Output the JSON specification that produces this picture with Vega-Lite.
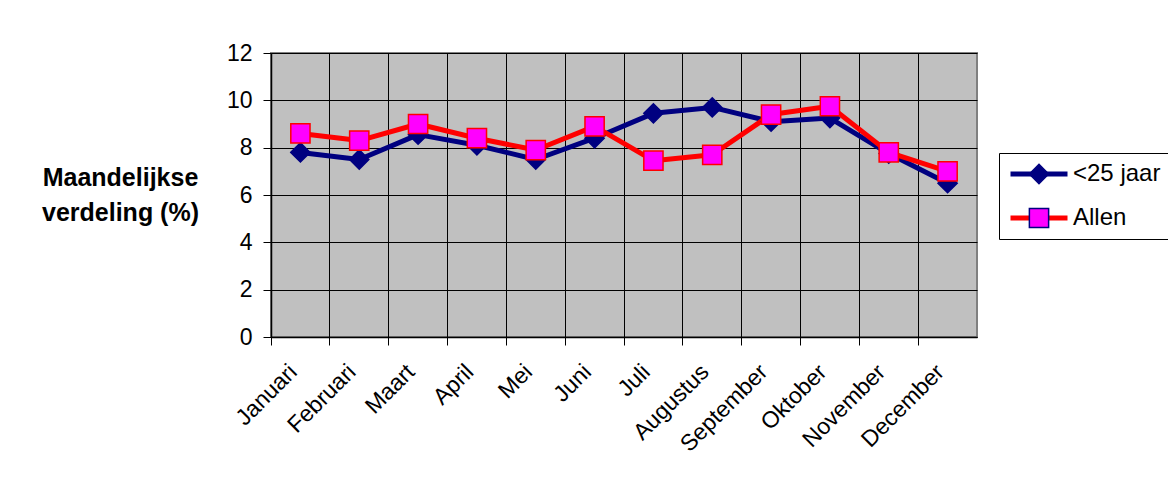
{
  "$schema": "https://vega.github.io/schema/vega-lite/v6.json",
  "autosize": {"type": "none"},
  "width": 706,
  "height": 284,
  "padding": {"left": 271, "top": 53, "right": 191, "bottom": 149},
  "background": "white",
  "config": {
    "font": "Liberation Sans",
    "view": {"fill": "#C0C0C0", "stroke": "#808080", "strokeWidth": 2}
  },
  "data": {
    "values": [
      {"maand": "Januari", "serie": "<25 jaar", "waarde": 7.8},
      {"maand": "Februari", "serie": "<25 jaar", "waarde": 7.5},
      {"maand": "Maart", "serie": "<25 jaar", "waarde": 8.55},
      {"maand": "April", "serie": "<25 jaar", "waarde": 8.1},
      {"maand": "Mei", "serie": "<25 jaar", "waarde": 7.5},
      {"maand": "Juni", "serie": "<25 jaar", "waarde": 8.4},
      {"maand": "Juli", "serie": "<25 jaar", "waarde": 9.45},
      {"maand": "Augustus", "serie": "<25 jaar", "waarde": 9.7},
      {"maand": "September", "serie": "<25 jaar", "waarde": 9.1},
      {"maand": "Oktober", "serie": "<25 jaar", "waarde": 9.25},
      {"maand": "November", "serie": "<25 jaar", "waarde": 7.75},
      {"maand": "December", "serie": "<25 jaar", "waarde": 6.5},
      {"maand": "Januari", "serie": "Allen", "waarde": 8.6},
      {"maand": "Februari", "serie": "Allen", "waarde": 8.3},
      {"maand": "Maart", "serie": "Allen", "waarde": 9.0},
      {"maand": "April", "serie": "Allen", "waarde": 8.4},
      {"maand": "Mei", "serie": "Allen", "waarde": 7.9},
      {"maand": "Juni", "serie": "Allen", "waarde": 8.9},
      {"maand": "Juli", "serie": "Allen", "waarde": 7.45},
      {"maand": "Augustus", "serie": "Allen", "waarde": 7.7},
      {"maand": "September", "serie": "Allen", "waarde": 9.4},
      {"maand": "Oktober", "serie": "Allen", "waarde": 9.75},
      {"maand": "November", "serie": "Allen", "waarde": 7.8},
      {"maand": "December", "serie": "Allen", "waarde": 7.0}
    ]
  },
  "encoding": {
    "x": {
      "field": "maand",
      "type": "ordinal",
      "sort": ["Januari", "Februari", "Maart", "April", "Mei", "Juni", "Juli", "Augustus", "September", "Oktober", "November", "December"],
      "scale": {"type": "band", "paddingInner": 0, "paddingOuter": 0},
      "bandPosition": 0.5,
      "axis": {
        "title": null,
        "bandPosition": 0,
        "grid": true,
        "gridColor": "#000000",
        "gridWidth": 1,
        "gridOpacity": 1,
        "ticks": true,
        "tickSize": 8,
        "tickColor": "#000000",
        "domainColor": "#000000",
        "domainWidth": 1.5,
        "labelAngle": -45,
        "labelAlign": "right",
        "labelBaseline": "middle",
        "labelFontSize": 23,
        "labelColor": "#000000",
        "labelOffset": -7,
        "labelPadding": 23,
        "labelOverlap": false,
        "labelBound": false
      }
    },
    "y": {
      "field": "waarde",
      "type": "quantitative",
      "scale": {"domain": [0, 12], "nice": false, "zero": true},
      "axis": {
        "values": [0, 2, 4, 6, 8, 10, 12],
        "grid": true,
        "gridColor": "#000000",
        "gridWidth": 1,
        "gridOpacity": 1,
        "tickSize": 8,
        "tickColor": "#000000",
        "domainColor": "#000000",
        "domainWidth": 1.5,
        "labelFontSize": 23,
        "labelColor": "#000000",
        "labelPadding": 11,
        "title": ["Maandelijkse", "verdeling (%)"],
        "titleAngle": 0,
        "titleAlign": "center",
        "titleBaseline": "middle",
        "titleX": -151,
        "titleY": 124,
        "titleFontSize": 25,
        "titleFontWeight": "bold",
        "titleColor": "#000000",
        "titleLineHeight": 35
      }
    }
  },
  "layer": [
    {
      "mark": {"type": "line", "strokeWidth": 5, "strokeJoin": "round"},
      "encoding": {
        "stroke": {
          "field": "serie",
          "type": "nominal",
          "scale": {"domain": ["<25 jaar", "Allen"], "range": ["#000080", "#FF0000"]},
          "legend": {
            "orient": "none",
            "legendX": 728,
            "legendY": 100,
            "title": null,
            "symbolType": "stroke",
            "symbolSize": 3249,
            "symbolStrokeWidth": 5,
            "labelFontSize": 24,
            "labelColor": "#000000",
            "labelOffset": 3,
            "strokeColor": "#000000",
            "padding": 9,
            "rowPadding": 20,
            "clipHeight": 24
          }
        }
      }
    },
    {
      "mark": {"type": "point", "filled": true, "opacity": 1, "size": 370, "strokeWidth": 1.5},
      "encoding": {
        "fill": {
          "field": "serie",
          "type": "nominal",
          "scale": {"range": ["#000080", "#FF00FF"]},
          "legend": {
            "orient": "none",
            "legendX": 747,
            "legendY": 100,
            "title": null,
            "symbolSize": 370,
            "symbolStrokeWidth": 1.5,
            "symbolOpacity": 1,
            "labelFontSize": 24,
            "labelExpr": "''",
            "labelOffset": 3,
            "padding": 9,
            "rowPadding": 20,
            "clipHeight": 24,
            "encode": {
              "symbols": {
                "update": {
                  "stroke": {"signal": "datum.value === 'Allen' ? '#FF0000' : '#000080'"},
                  "strokeWidth": {"value": 1.5}
                }
              }
            }
          }
        },
        "shape": {
          "field": "serie",
          "type": "nominal",
          "scale": {"range": ["diamond", "square"]}
        },
        "stroke": {
          "condition": {"test": "datum.serie === 'Allen'", "value": "#FF0000"},
          "value": "#000080"
        }
      }
    }
  ]
}
